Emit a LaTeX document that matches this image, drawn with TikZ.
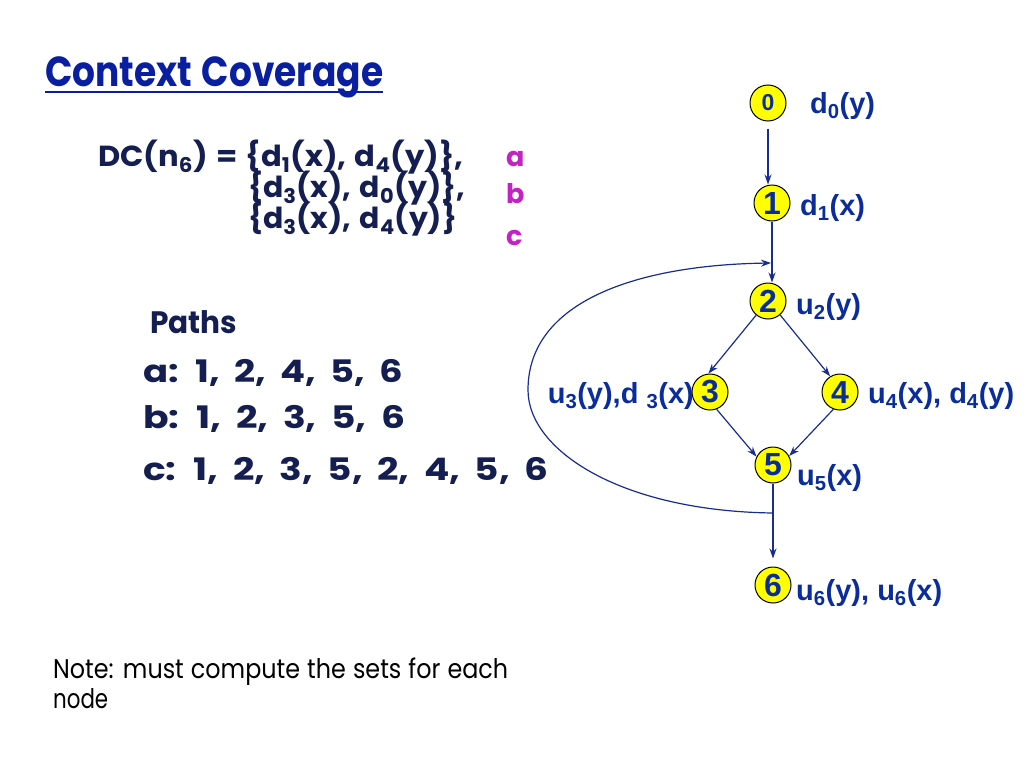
\documentclass[tikz,border=0pt]{standalone}
\usepackage{fontspec}
\setmainfont{Poppins}
\newfontfamily\graphfont{Liberation Sans}
\usetikzlibrary{arrows.meta}
\newcommand{\fitw}[3]{\resizebox{#1}{\height}{\spaceskip=#2\relax #3}}
\definecolor{titleblue}{RGB}{10,30,160}
\definecolor{navy}{RGB}{20,30,80}
\definecolor{lblue}{RGB}{10,45,155}
\definecolor{edgeblue}{RGB}{25,45,145}
\definecolor{mag}{RGB}{195,35,195}
\definecolor{nodeyellow}{RGB}{255,255,0}
\begin{document}
\begin{tikzpicture}[x=1pt,y=-1pt,
  txt/.style={inner sep=0pt, anchor=base west},
  dctext/.style={txt, text=navy, font=\fontsize{29}{32}\selectfont\bfseries},
  pathtext/.style={txt, text=navy, font=\fontsize{31}{34}\selectfont\bfseries},
  letter/.style={txt, text=mag, font=\fontsize{27}{30}\selectfont\bfseries},
  notetext/.style={txt, text=black, font=\fontsize{27}{30}\selectfont},
  glabel/.style={txt, text=lblue, font=\graphfont\fontsize{29}{32}\selectfont\bfseries},
  cnode/.style={circle, draw=black, line width=1pt, fill=nodeyellow, minimum size=36pt, inner sep=0pt, text=lblue, font=\graphfont\fontsize{32}{32}\selectfont\bfseries},
  arr/.style={-{Stealth[length=10pt,width=7pt]}, line width=1.2pt, draw=edgeblue},
  ]
\useasboundingbox (0,0) rectangle (1024,768);
\fill[white] (0,0) rectangle (1024,768);

% title
\node[txt, text=titleblue, font=\fontsize{42}{46}\selectfont\bfseries] (title) at (45,86) {\fitw{338pt}{11pt}{Context Coverage}};
\draw[titleblue, line width=2.5pt] ([yshift=-6pt]title.base west) -- ([yshift=-6pt]title.base east);

% DC sets
\node[dctext] (dc1) at (98,166) {\fitw{365pt}{8pt}{DC(n\textsubscript{6}) = \{d\textsubscript{1}(x), d\textsubscript{4}(y)\},}};
\node[dctext] (dc2) at (248,197) {\fitw{217pt}{8pt}{\{d\textsubscript{3}(x), d\textsubscript{0}(y)\},}};
\node[dctext] (dc3) at (248,228) {\fitw{209pt}{8pt}{\{d\textsubscript{3}(x), d\textsubscript{4}(y)\}}};
\node[letter] (la) at (506,166) {a};
\node[letter] (lb) at (506,203) {b};
\node[letter] (lc) at (506,245) {c};

% paths
\node[pathtext] (paths) at (150,333) {\fitw{87pt}{10pt}{Paths}};
\node[pathtext] (pa) at (143,382) {\fitw{260pt}{12pt}{a: 1, 2, 4, 5, 6}};
\node[pathtext] (pb) at (143,428) {\fitw{262pt}{12pt}{b: 1, 2, 3, 5, 6}};
\node[pathtext] (pc) at (143,480) {\fitw{405pt}{12pt}{c: 1, 2, 3, 5, 2, 4, 5, 6}};

% note
\node[notetext] (note1) at (53,678) {\fitw{455pt}{8pt}{Note: must compute the sets for each}};
\node[notetext] (note2) at (53,708) {\fitw{55pt}{8pt}{node}};

% graph nodes
\node[cnode, font=\graphfont\fontsize{23}{23}\selectfont\bfseries] (n0) at (768,103) {0};
\node[cnode] (n1) at (772,203) {1};
\node[cnode] (n2) at (768,301) {2};
\node[cnode] (n3) at (710,392) {3};
\node[cnode] (n4) at (840,392) {4};
\node[cnode] (n5) at (773,465) {5};
\node[cnode] (n6) at (773,585) {6};

% graph labels
\node[glabel] (l0) at (810,113) {d\textsubscript{0}(y)};
\node[glabel] (l1) at (800,215) {d\textsubscript{1}(x)};
\node[glabel] (l2) at (796,314) {u\textsubscript{2}(y)};
\node[glabel, anchor=base east] (l3) at (694,403) {u\textsubscript{3}(y),d \textsubscript{3}(x)};
\node[glabel] (l4) at (868,403) {u\textsubscript{4}(x), d\textsubscript{4}(y)};
\node[glabel] (l5) at (797,485) {u\textsubscript{5}(x)};
\node[glabel] (l6) at (796,600) {u\textsubscript{6}(y), u\textsubscript{6}(x)};

% edges
\draw[arr, shorten <=7pt] (n0.south) -- (n0.south |- n1.north);
\draw[arr] (n1.south) -- (n1.south |- n2.north);
\draw[arr] (n2.230) -- (n3.95);
\draw[arr] (n2.311) -- (n4.122);
\draw[arr] (n3.291) -- (n5.153);
\draw[arr] (n4.249) -- (n5.29);
\draw[arr, shorten >=8pt] (n5.south) -- (n5.south |- n6.north);

% back edge
\coordinate (j) at (773,513);
\coordinate (k) at (771,263);
\draw[arr] (j) .. controls (620,511) and (528,450) .. (528,390)
              .. controls (528,300) and (640,265) .. (k);
\end{tikzpicture}
\end{document}
